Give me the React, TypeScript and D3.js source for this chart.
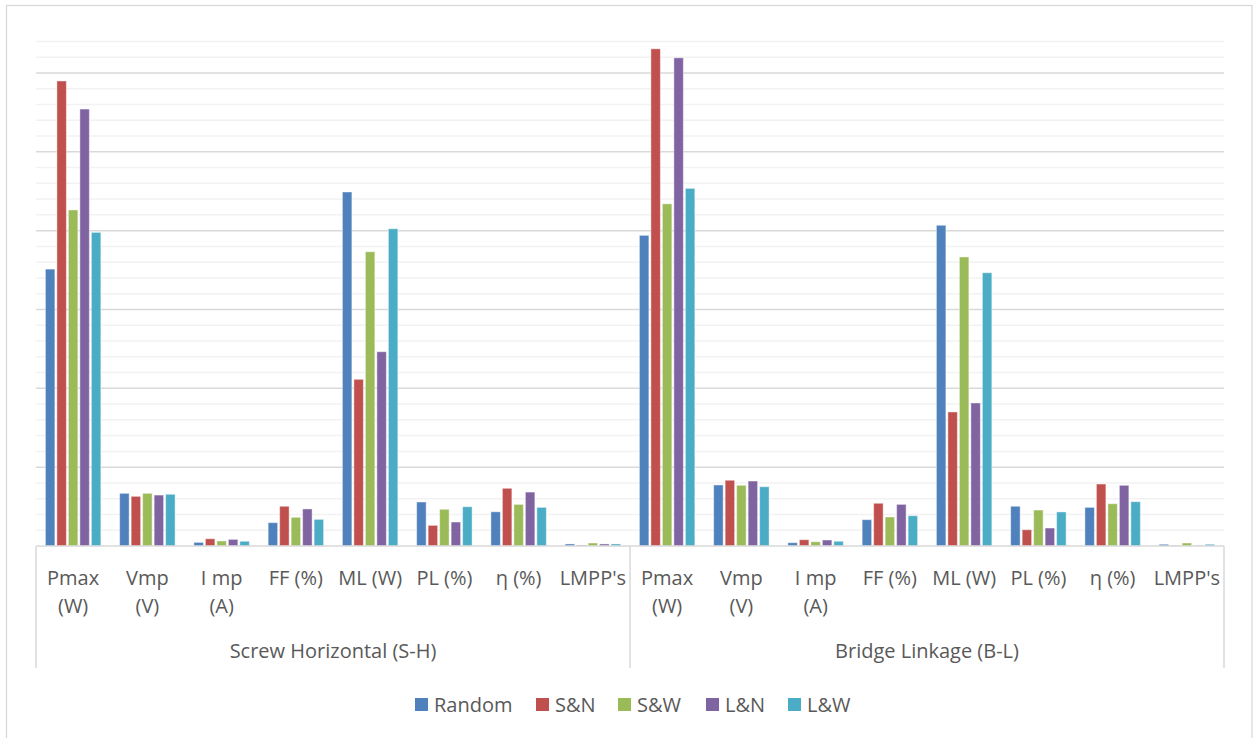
import React from "react";
import * as d3 from "d3";

// Series (one bar per series inside each category)
const seriesNames = ["Random", "S&N", "S&W", "L&N", "L&W"];
const seriesColors = ["#4F81BD", "#C0504D", "#9BBB59", "#8064A2", "#4BACC6"];

// Parameters shown for each connection scheme
const parameters = ["Pmax (W)", "Vmp (V)", "I mp (A)", "FF (%)", "ML (W)", "PL (%)", "η (%)", "LMPP's"];
// Lines used when a label wraps inside its category slot
const parameterLines = [
  ["Pmax", "(W)"],
  ["Vmp", "(V)"],
  ["I mp", "(A)"],
  ["FF (%)"],
  ["ML (W)"],
  ["PL (%)"],
  ["η (%)"],
  ["LMPP's"],
];

const groups = ["Screw Horizontal (S-H)", "Bridge Linkage (B-L)"];

// Values per group, per parameter, in series order: Random, S&N, S&W, L&N, L&W
const screwHorizontal = [
  [175.6, 294.9, 213.1, 277.1, 198.9],
  [33.4, 31.5, 33.4, 32.3, 32.8],
  [2.3, 4.6, 3.2, 4.2, 3.0],
  [14.8, 25.2, 18.2, 23.5, 16.9],
  [224.5, 105.7, 186.6, 123.2, 201.2],
  [27.9, 13.1, 23.3, 15.2, 24.9],
  [21.7, 36.6, 26.4, 34.2, 24.5],
  [1.3, 0.6, 1.9, 1.3, 1.3],
];

const bridgeLinkage = [
  [197.0, 315.3, 217.0, 309.6, 226.8],
  [38.7, 41.7, 38.5, 41.2, 37.6],
  [2.1, 4.0, 2.7, 3.8, 3.0],
  [16.7, 27.1, 18.4, 26.4, 19.2],
  [203.4, 85.0, 183.3, 90.7, 173.3],
  [25.2, 10.3, 22.8, 11.4, 21.6],
  [24.5, 39.3, 26.8, 38.5, 28.1],
  [1.1, 0.3, 1.9, 0.3, 1.1],
];

const yMax = 320;
const majorStep = 50;
const minorStep = 10;

const W = 1254;
const H = 738;
const FONT = "'Open Sans', 'Noto Sans', sans-serif";
const FONT_SIZE = 20;
const TEXT = "#595959";

export default function App() {
  const left = 36;
  const right = 1224;
  const top = 41.4;
  const base = 546;
  const axisBottom = 668;

  const groupData = [screwHorizontal, bridgeLinkage];
  const slots = groups.flatMap((g, gi) => parameters.map((p, pi) => ({ g, gi, p, pi })));

  const x = d3
    .scaleBand<number>()
    .domain(d3.range(slots.length))
    .range([left, right])
    .paddingInner(0)
    .paddingOuter(0);

  const slotPad = 8.4;
  const xInner = d3
    .scaleBand<string>()
    .domain(seriesNames)
    .range([slotPad, x.bandwidth() - slotPad]);

  const y = d3.scaleLinear().domain([0, yMax]).range([base, top]);

  const gridValues = d3.range(minorStep, yMax + 0.001, minorStep);

  const groupX = d3
    .scaleBand<number>()
    .domain(d3.range(groups.length))
    .range([left, right]);

  const legendX = [415, 536, 618, 706, 788];

  return (
    <div style={{ position: "absolute", left: 0, top: 0 }}>
      <svg width={W} height={H} style={{ display: "block", background: "#fff" }}>
        {/* chart frame */}
        <rect x={6.5} y={5.5} width={1245.5} height={740} fill="#fff" stroke="#d9d9d9" strokeWidth={1.3} />

        {/* gridlines */}
        {gridValues.map((v) => {
          const major = Math.abs(v % majorStep) < 1e-6;
          return (
            <line
              key={v}
              x1={left}
              x2={right}
              y1={y(v)}
              y2={y(v)}
              stroke={major ? "#d9d9d9" : "#f2f2f2"}
              strokeWidth={1.5}
            />
          );
        })}

        {/* bars */}
        {slots.map((s, si) => (
          <g key={si} transform={`translate(${x(si)},0)`}>
            {seriesNames.map((name, k) => {
              const v = groupData[s.gi][s.pi][k];
              const bx = (xInner(name) as number) + 1;
              const bw = xInner.bandwidth() - 2;
              return (
                <rect
                  key={name}
                  x={bx}
                  y={y(v)}
                  width={bw}
                  height={base - y(v)}
                  fill={seriesColors[k]}
                  stroke="#ffffff"
                  strokeOpacity={0.45}
                  strokeWidth={1}
                />
              );
            })}
          </g>
        ))}

        {/* category axis */}
        <line x1={left} x2={right} y1={base} y2={base} stroke="#d9d9d9" strokeWidth={1.5} />
        {[left, groupX(1) as number, right].map((lx, i) => (
          <line key={i} x1={lx} x2={lx} y1={base} y2={axisBottom} stroke="#d9d9d9" strokeWidth={1.5} />
        ))}

        {slots.map((s, si) => {
          const cx = (x(si) as number) + x.bandwidth() / 2;
          const lines = parameterLines[s.pi];
          return (
            <text key={si} x={cx} y={585} textAnchor="middle" fontFamily={FONT} fontSize={FONT_SIZE} fill={TEXT}>
              {lines.map((ln, li) => (
                <tspan key={li} x={cx} dy={li === 0 ? 0 : 28}>
                  {ln}
                </tspan>
              ))}
            </text>
          );
        })}

        {groups.map((g, gi) => (
          <text
            key={g}
            x={(groupX(gi) as number) + groupX.bandwidth() / 2}
            y={658}
            textAnchor="middle"
            fontFamily={FONT}
            fontSize={FONT_SIZE}
            fill={TEXT}
          >
            {g}
          </text>
        ))}

        {/* legend */}
        {seriesNames.map((name, k) => (
          <g key={name} transform={`translate(${legendX[k]},0)`}>
            <rect x={0} y={698} width={13} height={13} fill={seriesColors[k]} />
            <text x={19} y={712} fontFamily={FONT} fontSize={FONT_SIZE} fill={TEXT}>
              {name}
            </text>
          </g>
        ))}
      </svg>
    </div>
  );
}
